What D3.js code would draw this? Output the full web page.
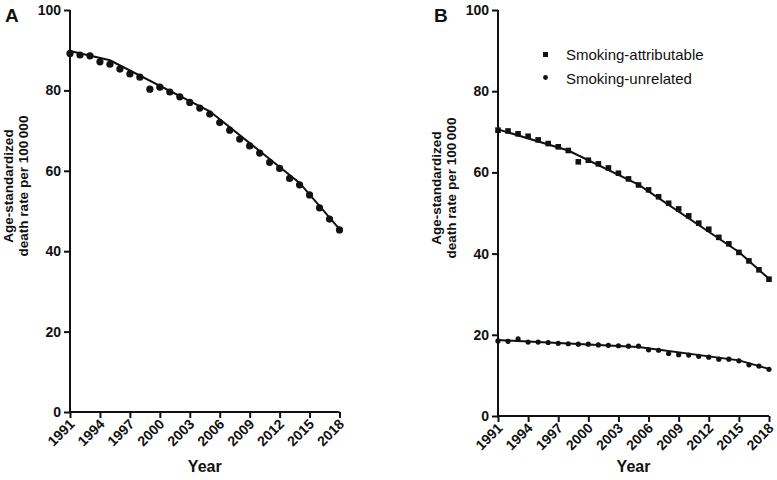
<!DOCTYPE html>
<html><head><meta charset="utf-8">
<script src="https://cdn.jsdelivr.net/npm/d3@7"></script>
<style>body{margin:0;background:#fff;} text{font-family:"Liberation Sans",Arial,sans-serif;}</style>
</head><body>
<svg id="c" width="777" height="480"></svg>
<script>
const years = d3.range(1991, 2019);
const tickYears = [1991,1994,1997,2000,2003,2006,2009,2012,2015,2018];
const yTicks = [0,20,40,60,80,100];
// Panel A: total
const totalRate = [89.2,88.8,88.6,87.1,86.5,85.3,84.1,83.3,80.3,80.8,79.6,78.4,77.0,75.6,74.1,72.0,70.1,67.9,66.2,64.4,62.1,60.6,58.1,56.5,54.0,50.8,48.0,45.3];
const totalFitYears = [1991,1995,2005,2014,2018];
const totalFitValues = [89.8,87.5,74.8,57.0,45.5];
// Panel B
const attribRate = [70.4,70.2,69.5,68.9,68.0,67.1,66.3,65.4,62.6,63.0,62.1,61.1,59.8,58.4,56.9,55.7,54.0,52.4,51.0,49.3,47.5,46.0,44.0,42.4,40.3,38.2,36.0,33.7];
const attribFitYears = [1991,1998,2005,2015,2018];
const attribFitValues = [70.6,65.4,57.0,40.4,33.8];
const unrelRate = [18.5,18.4,19.0,18.2,18.2,18.1,17.9,17.8,17.7,17.7,17.5,17.4,17.3,17.2,17.2,16.3,16.2,15.4,15.1,15.0,14.7,14.5,14.0,14.0,13.6,12.6,12.3,11.5];
const unrelFitYears = [1991,2005,2015,2018];
const unrelFitValues = [18.7,17.0,13.7,11.6];
const legendLabels = ["Smoking-attributable","Smoking-unrelated"];

const svg = d3.select("#c");

function panel(cfg){
  const g = svg.append("g");
  const x = d3.scaleLinear().domain([1991,2018]).range([cfg.x0,cfg.x1]);
  const y = d3.scaleLinear().domain([0,100]).range([cfg.y0,cfg.y1]);
  const ya = g.append("g").attr("transform",`translate(${cfg.x0},0)`)
    .call(d3.axisLeft(y).tickValues(yTicks).tickSize(6).tickPadding(3).tickFormat(d3.format("d")));
  const xa = g.append("g").attr("transform",`translate(0,${cfg.y0})`)
    .call(d3.axisBottom(x).tickValues(tickYears).tickSize(6).tickFormat(d3.format("d")));
  [ya,xa].forEach(a=>{
    a.attr("font-size",14).attr("font-family",null);
    a.select(".domain").attr("stroke","#111").attr("stroke-width",2);
    a.selectAll(".tick line").attr("stroke","#111").attr("stroke-width",2);
    a.selectAll(".tick text").attr("fill","#111").style("font-size","14px").style("font-weight","bold");
  });
  ya.select(".domain").attr("d",`M0,${cfg.y0}V${cfg.y1}`);
  xa.select(".domain").attr("d",`M${cfg.x0},0H${cfg.x1}`);
  xa.selectAll(".tick text").attr("text-anchor","end").attr("dy",null).attr("y",0)
    .attr("transform","translate(5,13) rotate(-45)");
  g.append("text").attr("x",(cfg.x0+cfg.x1)/2).attr("y",472).attr("text-anchor","middle")
    .attr("font-size",16).attr("font-weight","bold").attr("fill","#111").text("Year");
  const yt = g.append("text").attr("transform",`translate(${cfg.lx},${cfg.ly}) rotate(-90)`)
    .attr("text-anchor","middle").attr("font-size",13.5).attr("font-weight","bold").attr("fill","#111");
  yt.append("tspan").attr("x",0).attr("dy",0).text("Age-standardized");
  yt.append("tspan").attr("x",0).attr("dy",15).text("death rate per 100\u2009000");
  g.append("text").attr("x",cfg.px).attr("y",22).attr("font-size",19).attr("font-weight","bold").attr("fill","#111").text(cfg.label);
  return {g,x,y};
}

function fitLine(p, yrs, vals){
  const line = d3.line().x((d,i)=>p.x(yrs[i])).y(d=>p.y(d));
  p.g.append("path").attr("d",line(vals)).attr("fill","none").attr("stroke","#111").attr("stroke-width",2);
}

const A = panel({x0:70,x1:339.5,y0:412,y1:10,lx:13,ly:186,px:5,label:"A"});
fitLine(A,totalFitYears,totalFitValues);
A.g.selectAll("circle.a").data(totalRate).join("circle").attr("cx",(d,i)=>A.x(years[i])).attr("cy",d=>A.y(d)).attr("r",3.6).attr("fill","#111");

const B = panel({x0:498,x1:769,y0:416,y1:10,lx:441,ly:188,px:434,label:"B"});
fitLine(B,attribFitYears,attribFitValues);
fitLine(B,unrelFitYears,unrelFitValues);
B.g.selectAll("rect.b").data(attribRate).join("rect").attr("x",(d,i)=>B.x(years[i])-2.8).attr("y",d=>B.y(d)-2.8).attr("width",5.6).attr("height",5.6).attr("fill","#111");
B.g.selectAll("circle.u").data(unrelRate).join("circle").attr("cx",(d,i)=>B.x(years[i])).attr("cy",d=>B.y(d)).attr("r",2.6).attr("fill","#111");

// legend
const lg = svg.append("g");
lg.append("rect").attr("x",543).attr("y",52).attr("width",5).attr("height",5).attr("fill","#111");
lg.append("circle").attr("cx",545.5).attr("cy",77.5).attr("r",2.4).attr("fill","#111");
lg.selectAll("text.l").data(legendLabels).join("text").attr("x",566).attr("y",(d,i)=>60+i*23.5)
  .attr("font-size",15).attr("fill","#111").text(d=>d);
</script>
</body></html>
